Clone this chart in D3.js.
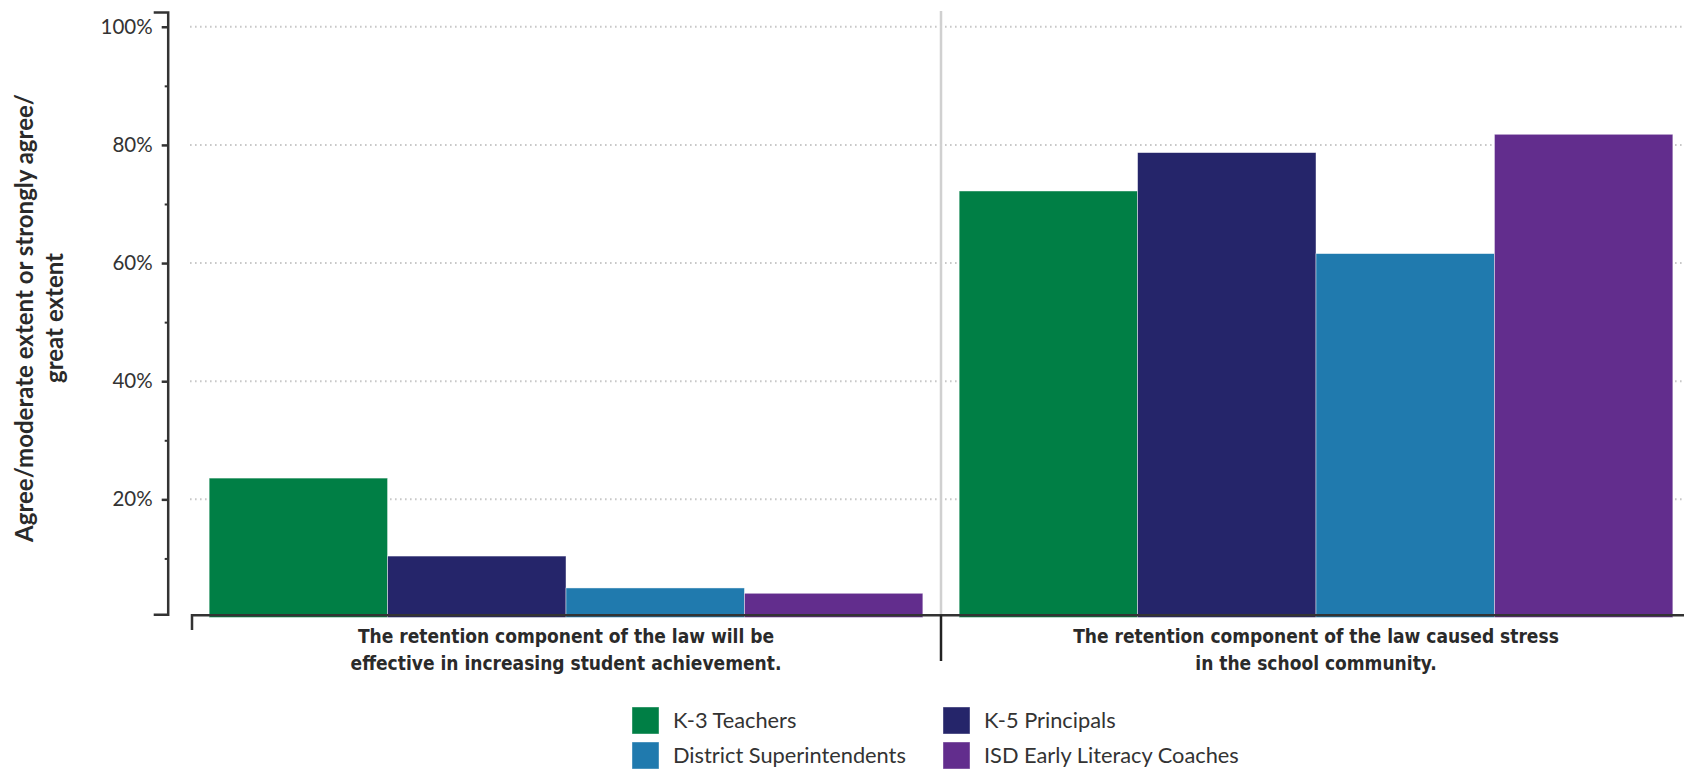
<!DOCTYPE html>
<html>
<head>
<meta charset="utf-8">
<script src="https://cdn.jsdelivr.net/npm/d3@7"></script>
<style>
  html, body { margin: 0; padding: 0; background: #fff; }
  svg { display: block; }
</style>
</head>
<body>
<svg id="chart" width="1684" height="769"></svg>
<script>
// ---- data ----
const categories = [
  "The retention component of the law will be\neffective in increasing student achievement.",
  "The retention component of the law caused stress\nin the school community."
];
const series = ["K-3 Teachers", "K-5 Principals", "District Superintendents", "ISD Early Literacy Coaches"];
const colors = ["#007f45", "#25256a", "#207aae", "#622d8d"];
const valuesTeachers = [0.236, 0.722];
const valuesPrincipals = [0.104, 0.787];
const valuesSuperintendents = [0.050, 0.616];
const valuesCoaches = [0.041, 0.818];
const seriesValues = [valuesTeachers, valuesPrincipals, valuesSuperintendents, valuesCoaches];
const majorTicks = [0.2, 0.4, 0.6, 0.8, 1.0];
const minorTicks = [0.1, 0.3, 0.5, 0.7, 0.9];
const yTitleLines = ["Agree/moderate extent or strongly agree/", "great extent"];

// ---- layout ----
const svg = d3.select("#chart");
const W = 1684;
const axisX = 167.7;
const y = d3.scaleLinear().domain([0, 1.025]).range([617.5, 12]);
const x0 = d3.scaleBand().domain(categories).range([191, 1691]).paddingInner(0.0484).paddingOuter(0.0242);
const x1 = d3.scaleBand().domain(series).range([0, x0.bandwidth()]).padding(0);
const color = d3.scaleOrdinal().domain(series).range(colors);

const baseFont = "Lato, 'Open Sans', sans-serif";
const condFont = "'DejaVu Sans Condensed', 'Liberation Sans Narrow', sans-serif";

// gridlines
svg.append("g").selectAll("line").data(majorTicks).join("line")
  .attr("x1", 190).attr("x2", W)
  .attr("y1", d => y(d)).attr("y2", d => y(d))
  .attr("stroke", "#c8c8c8").attr("stroke-width", 2)
  .attr("stroke-dasharray", "1.6,3.4");

// separator (light part above axis)
const sepX = x0.range()[0] + x0.step();
svg.append("line")
  .attr("x1", sepX).attr("x2", sepX)
  .attr("y1", 11).attr("y2", 615)
  .attr("stroke", "#d0d0d0").attr("stroke-width", 2.5);

// bars
const groups = svg.append("g").selectAll("g").data(categories).join("g")
  .attr("transform", d => `translate(${x0(d)},0)`);
groups.selectAll("rect")
  .data((c, ci) => series.map((s, si) => ({ s, v: seriesValues[si][ci] })))
  .join("rect")
  .attr("x", d => x1(d.s))
  .attr("width", x1.bandwidth())
  .attr("y", d => y(d.v))
  .attr("height", d => y(0) - y(d.v))
  .attr("fill", d => color(d.s))
  .attr("stroke", "rgba(255,255,255,0.55)")
  .attr("stroke-width", 0.8);

// y axis (major with labels)
const yAxisScale = y.copy().domain([0.0054, 1.025]).range([y(0.0054), y(1.025)]);
const yAxis = d3.axisLeft(yAxisScale)
  .tickValues(majorTicks)
  .tickFormat(d3.format(".0%"))
  .tickSize(6)
  .tickSizeOuter(14)
  .tickPadding(9);
const gy = svg.append("g").attr("transform", `translate(${axisX},0)`).call(yAxis);
gy.select(".domain").attr("stroke", "#333").attr("stroke-width", 2.5);
gy.selectAll(".tick line").attr("stroke", "#333").attr("stroke-width", 2.5);
gy.selectAll(".tick text")
  .attr("fill", "#333")
  .style("font-family", baseFont)
  .style("font-size", "20.5px")
  .style("font-weight", 400);

// minor ticks
const yMinor = d3.axisLeft(y).tickValues(minorTicks).tickSize(3).tickSizeOuter(0).tickFormat("");
const gm = svg.append("g").attr("transform", `translate(${axisX},0)`).call(yMinor);
gm.select(".domain").remove();
gm.selectAll(".tick line").attr("stroke", "#333").attr("stroke-width", 2);

// x axis
const axisY = 615.3;
svg.append("path")
  .attr("d", `M${x0.range()[0] + 1},630 V${axisY} H${W}`)
  .attr("fill", "none").attr("stroke", "#333").attr("stroke-width", 2.5);
// separator (dark part below axis)
svg.append("line")
  .attr("x1", sepX).attr("x2", sepX)
  .attr("y1", axisY).attr("y2", 661)
  .attr("stroke", "#222").attr("stroke-width", 2.5);

// category labels
const catG = svg.append("g").selectAll("text").data(categories).join("text")
  .attr("x", d => x0(d) + x0.bandwidth() / 2)
  .attr("y", 643)
  .attr("text-anchor", "middle")
  .attr("fill", "#2a2a2a")
  .style("font-family", condFont)
  .style("font-size", "19px")
  .style("font-weight", 700);
catG.selectAll("tspan").data(d => d.split("\n")).join("tspan")
  .attr("x", function () { return d3.select(this.parentNode).attr("x"); })
  .attr("dy", (d, i) => i === 0 ? 0 : 27)
  .text(d => d);

// y title
const yt = svg.append("text")
  .attr("transform", "translate(24,318) rotate(-90)")
  .attr("text-anchor", "middle")
  .attr("fill", "#2a2a2a")
  .style("font-family", baseFont)
  .style("font-size", "24px")
  .style("font-weight", 700);
yt.selectAll("tspan").data(yTitleLines).join("tspan")
  .attr("x", 0)
  .attr("dy", (d, i) => i === 0 ? 8.5 : 30)
  .text(d => d);

// legend
const legendCols = [632, 943];
const legendRows = [707, 742];
const lg = svg.append("g").selectAll("g").data(series).join("g")
  .attr("transform", (d, i) => `translate(${legendCols[i % 2]},${legendRows[Math.floor(i / 2)]})`);
lg.append("rect").attr("width", 27).attr("height", 27)
  .attr("fill", d => color(d))
  .attr("stroke", "rgba(255,255,255,0.5)").attr("stroke-width", 0.8);
lg.append("text")
  .attr("x", 41).attr("y", 21)
  .attr("fill", "#333")
  .style("font-family", baseFont)
  .style("font-size", "21.8px")
  .text(d => d);
</script>
</body>
</html>
